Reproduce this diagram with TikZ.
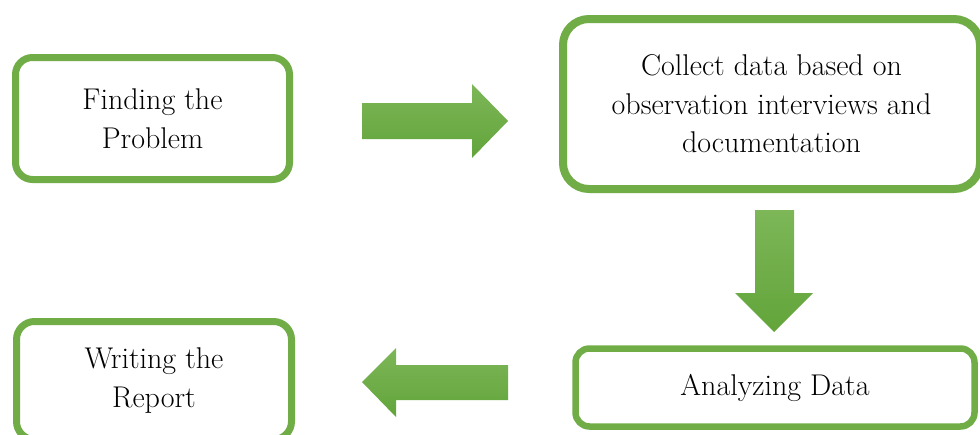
\documentclass[tikz,border=0pt]{standalone}
\definecolor{accentgreen}{HTML}{70AD47}
\definecolor{arrowtop}{HTML}{7DB758}
\definecolor{arrowbottom}{HTML}{62A43A}
\begin{document}
\begin{tikzpicture}[x=1pt,y=-1pt,
        greenbox/.style={draw=accentgreen,fill=white,rounded corners=#1,align=center,inner sep=0pt,font=\fontsize{30}{38.5}\selectfont},
        blockarrow/.style={top color=arrowtop,bottom color=arrowbottom,draw=none}]
        \useasboundingbox[fill=white] (0,0) rectangle (980,434);
        %% boxes
        \node[greenbox=17pt,line width=7pt,minimum width=274pt,minimum height=122pt] (problem) at (152.5,118.5) {Finding the\\Problem};
        \node[greenbox=26pt,line width=8pt,minimum width=417pt,minimum height=170pt] (collect) at (771.5,104) {Collect data based on\\observation interviews and\\documentation};
        \node[greenbox=14pt,line width=6.5pt,minimum width=399pt,minimum height=78pt] (analyze) at (775,387.5) {Analyzing Data};
        \node[greenbox=18pt,line width=7pt,minimum width=275pt,minimum height=118pt] (report) at (154,380.5) {Writing the\\Report};
        %% arrow right
        \shade[blockarrow] (362,103) -- (472,103) -- (472,84) -- (508,121) -- (472,158) -- (472,139) -- (362,139) -- cycle;
        %% arrow down
        \shade[blockarrow] (755,210) -- (794,210) -- (794,293) -- (813,293) -- (774,332) -- (735,293) -- (755,293) -- cycle;
        %% arrow left
        \shade[blockarrow] (508,365) -- (396,365) -- (396,348) -- (362,382) -- (396,417) -- (396,400) -- (508,400) -- cycle;
\end{tikzpicture}
\end{document}
